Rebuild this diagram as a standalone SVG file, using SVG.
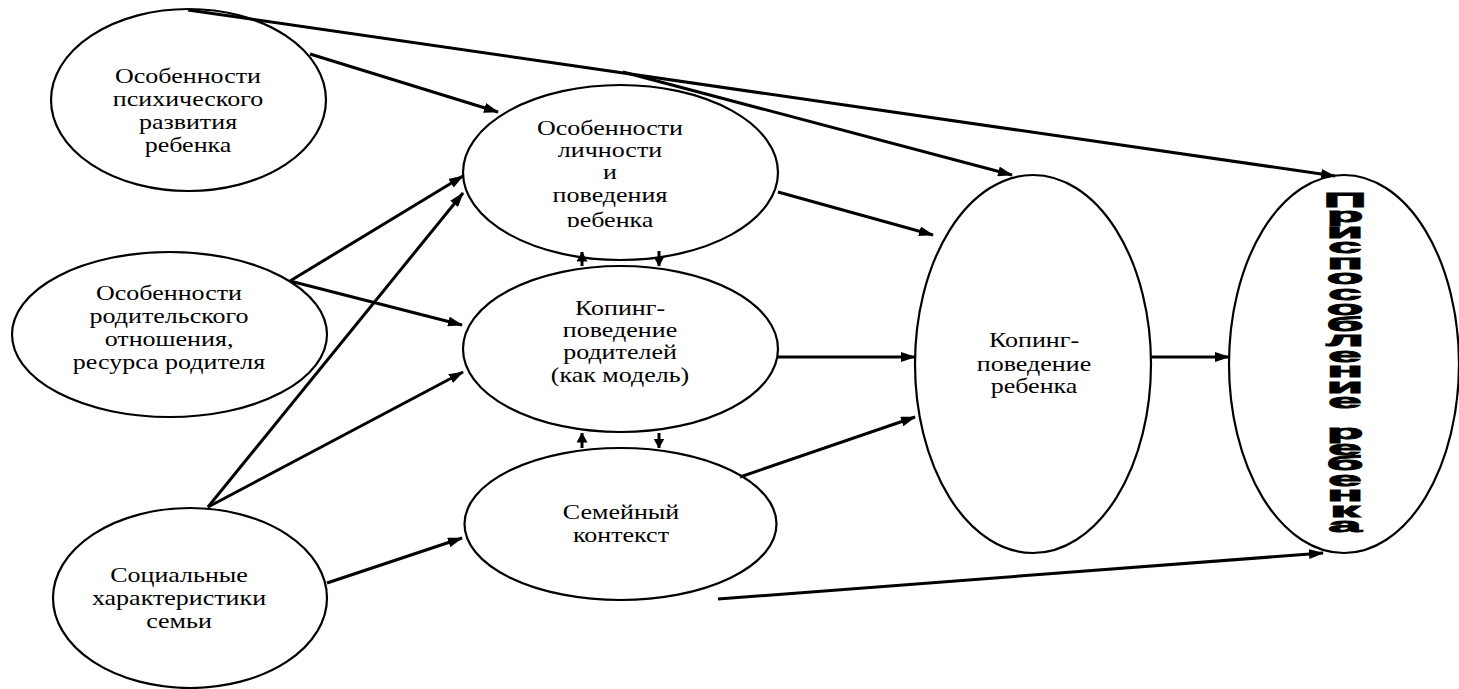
<svg xmlns="http://www.w3.org/2000/svg" width="1459" height="689" viewBox="0 0 1459 689">
<style>
.node ellipse{fill:#fff;stroke:#000;stroke-width:2.2}
.lbl{font-family:'Liberation Serif','DejaVu Serif',serif;font-size:20px;fill:#000;text-anchor:middle}
.big{font-family:'Liberation Sans','DejaVu Sans',sans-serif;font-size:20px;font-weight:bold;fill:#000;stroke:#000;stroke-width:0.9;text-anchor:middle}
.conn line{stroke:#000;stroke-width:3;fill:none;marker-end:url(#ah)}
.conn line.sm{stroke-width:3;marker-end:url(#as)}
</style>
<defs>
<marker id="ah" viewBox="0 0 15 10" refX="14" refY="5" markerWidth="15" markerHeight="10" markerUnits="userSpaceOnUse" orient="auto"><path d="M0,0 L15,5 L0,10 z" fill="#000"/></marker>
<marker id="as" viewBox="0 0 10 11" refX="9.5" refY="5.5" markerWidth="10" markerHeight="11" markerUnits="userSpaceOnUse" orient="auto"><path d="M0,0 L10,5.5 L0,11 z" fill="#000"/></marker>
<clipPath id="cl4"><rect x="450" y="80" width="340" height="147"/></clipPath>
</defs>
<rect width="1459" height="689" fill="#fff"/>

<g id="n1" class="node">
<ellipse cx="188.5" cy="100" rx="137.5" ry="91"/>
<g transform="translate(188,0) scale(1.3,1)"><text class="lbl" font-family="Liberation Serif, DejaVu Serif, serif"><tspan x="0" y="83">Особенности</tspan><tspan x="0" y="106">психического</tspan><tspan x="0" y="129">развития</tspan><tspan x="0" y="152">ребенка</tspan></text></g>
</g>
<g id="n2" class="node">
<ellipse cx="169.5" cy="334.5" rx="157.5" ry="82.5"/>
<g transform="translate(169,0) scale(1.3,1)"><text class="lbl" font-family="Liberation Serif, DejaVu Serif, serif"><tspan x="0" y="300">Особенности</tspan><tspan x="0" y="323">родительского</tspan><tspan x="0" y="346">отношения,</tspan><tspan x="0" y="369">ресурса родителя</tspan></text></g>
</g>
<g id="n3" class="node">
<ellipse cx="190" cy="598" rx="137" ry="90"/>
<g transform="translate(179,0) scale(1.3,1)"><text class="lbl" font-family="Liberation Serif, DejaVu Serif, serif"><tspan x="0" y="582">Социальные</tspan><tspan x="0" y="605">характеристики</tspan><tspan x="0" y="628">семьи</tspan></text></g>
</g>
<g id="n4" class="node">
<ellipse cx="620.5" cy="172.5" rx="157.5" ry="87.5"/>
<g clip-path="url(#cl4)"><g transform="translate(610,0) scale(1.3,1)"><text class="lbl" font-family="Liberation Serif, DejaVu Serif, serif"><tspan x="0" y="135">Особенности</tspan><tspan x="0" y="157">личности</tspan><tspan x="0" y="179">и</tspan><tspan x="0" y="202">поведения</tspan><tspan x="0" y="227">ребенка</tspan></text></g></g>
</g>
<g id="n5" class="node">
<ellipse cx="620.5" cy="349" rx="157.5" ry="83"/>
<g transform="translate(620,0) scale(1.3,1)"><text class="lbl" font-family="Liberation Serif, DejaVu Serif, serif"><tspan x="0" y="315">Копинг-</tspan><tspan x="0" y="337">поведение</tspan><tspan x="0" y="359">родителей</tspan><tspan x="0" y="382">(как модель)</tspan></text></g>
</g>
<g id="n6" class="node">
<ellipse cx="620.5" cy="524" rx="156" ry="76"/>
<g transform="translate(621,0) scale(1.3,1)"><text class="lbl" font-family="Liberation Serif, DejaVu Serif, serif"><tspan x="0" y="519">Семейный</tspan><tspan x="0" y="542">контекст</tspan></text></g>
</g>
<g id="n7" class="node">
<ellipse cx="1033" cy="364" rx="118" ry="189"/>
<g transform="translate(1034,0) scale(1.3,1)"><text class="lbl" font-family="Liberation Serif, DejaVu Serif, serif"><tspan x="0" y="347">Копинг-</tspan><tspan x="0" y="371">поведение</tspan><tspan x="0" y="393">ребенка</tspan></text></g>
</g>
<g id="n8" class="node">
<ellipse cx="1344" cy="364" rx="115" ry="189"/>
<g transform="translate(1345,0) scale(3,1)"><text class="big" x="0 0 0 0 0 0 0 0 0 0 0 0 0 0 0 0 0 0 0 0 0 0" y="207 222.5 238 253.5 269 284.5 300 315.5 331 346.5 362 377.5 393 408.5 424 439.5 455 470.5 486 501.5 517 532.5">Приспособление ребенка</text></g>
</g>

<g id="connectors" class="conn">
<line x1="188" y1="10" x2="1335" y2="176"/>
<line x1="623" y1="72" x2="1012" y2="175"/>
<line x1="310" y1="54" x2="498" y2="112"/>
<line x1="290" y1="281" x2="463" y2="176"/>
<line x1="290" y1="281" x2="462" y2="325"/>
<line x1="208" y1="507" x2="463" y2="193"/>
<line x1="208" y1="507" x2="463" y2="372"/>
<line x1="327" y1="583" x2="462" y2="538"/>
<line x1="778" y1="192" x2="933" y2="235"/>
<line x1="778" y1="357" x2="915" y2="357"/>
<line x1="740" y1="477" x2="915" y2="417"/>
<line x1="718" y1="599" x2="1323" y2="553"/>
<line x1="1151" y1="357" x2="1229" y2="357"/>
<line class="sm" x1="582" y1="266" x2="582" y2="252"/>
<line class="sm" x1="659" y1="251" x2="659" y2="266"/>
<line class="sm" x1="582" y1="448" x2="582" y2="433"/>
<line class="sm" x1="659" y1="433" x2="659" y2="448"/>
</g>
</svg>
